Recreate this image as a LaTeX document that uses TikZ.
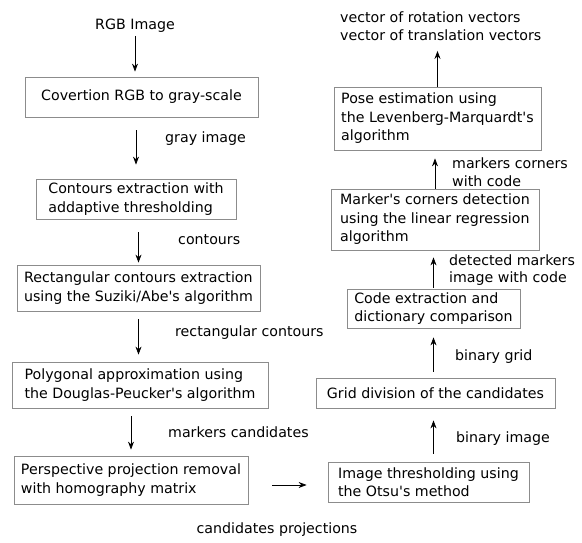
\documentclass[tikz,border=0pt]{standalone}
\usepackage{fontspec}
\setmainfont{DejaVu Sans}
\usetikzlibrary{arrows.meta}
\newcommand{\sq}{\textquotesingle}
\begin{document}
\begin{tikzpicture}[x=1pt,y=-1pt,
  every node/.style={font=\fontsize{14.2}{18.5}\selectfont},
  box/.style={draw=black!45, line width=0.8pt, inner sep=0pt, align=left},
  lbl/.style={anchor=west, inner sep=0pt, align=left},
  arr/.style={line width=0.8pt, -{Stealth[length=8pt,width=6pt]}}]
\useasboundingbox (0,0) rectangle (582,543);
% left column
\node[inner sep=0pt] (rgb) at (135,26) {RGB Image};
\node[box, minimum width=233pt, minimum height=40pt, align=center] (b1) at (141.5,97) {Covertion RGB to gray-scale};
\node[box, minimum width=200pt, minimum height=40pt] (b2) at (136,199) {Contours extraction with\\addaptive thresholding};
\node[box, minimum width=243pt, minimum height=46pt] (b3) at (138.5,288) {Rectangular contours extraction\\using the Suziki/Abe\sq s algorithm};
\node[box, minimum width=256pt, minimum height=46pt] (b4) at (140,385) {Polygonal approximation using\\the Douglas-Peucker\sq s algorithm};
\node[box, minimum width=234pt, minimum height=48pt] (b5) at (131,480) {Perspective projection removal\\with homography matrix};
% right column
\node[box, minimum width=201pt, minimum height=40pt] (ith) at (428.5,482) {Image thresholding using\\the Otsu\sq s method};
\node[box, minimum width=239pt, minimum height=30pt, align=center] (g) at (435.5,393) {Grid division of the candidates};
\node[box, minimum width=173pt, minimum height=39pt] (c) at (433.5,308.5) {Code extraction and\\dictionary comparison};
\node[box, minimum width=208pt, minimum height=61pt] (m) at (435,219.5) {Marker\sq s corners detection\\using the linear regression\\algorithm};
\node[box, minimum width=207pt, minimum height=63pt] (p) at (437.5,118.5) {Pose estimation using\\the Levenberg-Marquardt\sq s\\algorithm};
\node[lbl] (out) at (340,26) {vector of rotation vectors\\vector of translation vectors};
% labels
\node[lbl] (l1) at (165,139) {gray image};
\node[lbl] (l2) at (178,240) {contours};
\node[lbl] (l3) at (175,333) {rectangular contours};
\node[lbl] (l4) at (168,432) {markers candidates};
\node[inner sep=0pt] (l5) at (277,530) {candidates projections};
\node[lbl] (l6) at (456,439) {binary image};
\node[lbl] (l7) at (455,357) {binary grid};
\node[lbl, font=\fontsize{14.2}{16.7}\selectfont] (l8) at (449,270) {detected markers\\image with code};
\node[lbl] (l9) at (452,172) {markers corners\\with code};
% arrows left
\draw[arr, shorten <=3pt, shorten >=5pt] (rgb.south) -- (b1.north -| rgb.south);
\draw[arr, shorten <=13pt, shorten >=14pt] (b1.south -| b2.north) -- (b2.north);
\draw[arr, shorten <=13pt, shorten >=2pt] (b2.south -| b3.north) -- (b3.north);
\draw[arr, shorten <=8pt, shorten >=7pt] (b3.south) -- (b4.north -| b3.south);
\draw[arr, shorten <=8pt, shorten >=6pt] (b4.south -| b5.north) -- (b5.north);
\draw[arr, shorten <=24pt, shorten >=21pt] ([yshift=-5pt]b5.east) -- ([yshift=-5pt]b5.east -| ith.west);
% arrows right
\draw[arr, shorten <=8pt, shorten >=12pt] (ith.north -| c.south) -- (g.south -| c.south);
\draw[arr, shorten <=6pt, shorten >=9pt] (g.north -| c.south) -- (c.south);
\draw[arr, shorten <=1pt, shorten >=7pt] (c.north) -- (m.south -| c.north);
\draw[arr, shorten >=8pt] (m.north) -- (p.south -| m.north);
\draw[arr, shorten >=10pt] (p.north) -- (out.south -| p.north);
\end{tikzpicture}
\end{document}
